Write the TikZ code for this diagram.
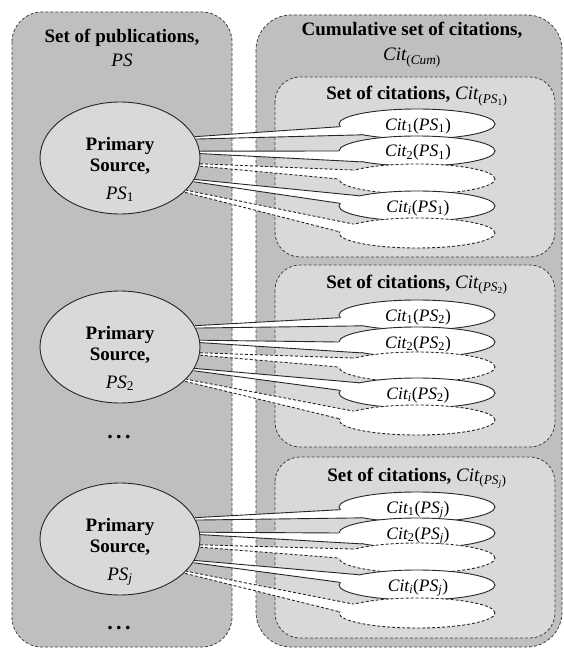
\documentclass[tikz,border=0pt]{standalone}
\usepackage{fontspec}
\setmainfont{Liberation Serif}
\usetikzlibrary{calc,shapes.geometric}
\definecolor{gA}{RGB}{191,191,191}
\definecolor{gB}{RGB}{217,217,217}
\newcommand{\mi}[1]{{\mdseries\itshape #1}}
\newcommand{\mytail}[6]{%
  \fill[white] ($(#1.#2)+(0,-1.2)$) -- (#3.#4) -- ($(#3.#4)!.5!(#3.#5)+(10,0)$) -- (#3.#5) -- ($(#1.#2)+(0,1.2)$) -- cycle;
  \draw[#6] ($(#1.#2)+(0,-1.2)$) -- (#3.#4);
  \draw[#6] ($(#1.#2)+(0,1.2)$) -- (#3.#5);}
\begin{document}
\begin{tikzpicture}[x=1pt,y=-1pt,
  dsh/.style={dash pattern=on 3pt off 2pt},
  outerpanel/.style={draw=black!75, dsh, line width=0.8pt, fill=gA},
  innerpanel/.style={draw=black!75, dsh, line width=0.8pt, fill=gB},
  psell/.style={ellipse, draw=black!85, line width=0.9pt, fill=gB, minimum width=160pt, minimum height=112pt, inner sep=0pt},
  citell/.style={ellipse, draw=black!85, line width=0.9pt, fill=white, minimum width=156pt, minimum height=30pt, inner sep=0pt},
  citdash/.style={citell, dsh},
  tlsolid/.style={draw=black!85, line width=0.9pt},
  tldash/.style={draw=black!85, line width=0.9pt, dsh},
  ttl/.style={font=\fontsize{19}{22}\selectfont\bfseries, inner sep=0pt, anchor=base},
  mth/.style={font=\fontsize{19}{22}\selectfont, inner sep=0pt, anchor=base},
  citlab/.style={font=\fontsize{17.5}{20}\selectfont, inner sep=0pt, anchor=base},
  dots/.style={font=\fontsize{22}{24}\selectfont\bfseries, inner sep=0pt}]
\useasboundingbox (0,0) rectangle (564,650);
% panels
\draw[outerpanel, rounded corners=30pt] (12,12) rectangle (232,647);
\draw[outerpanel, rounded corners=35pt] (256,15) rectangle (562,647);
\draw[innerpanel, rounded corners=25pt] (275,77) rectangle (555,257);
\draw[innerpanel, rounded corners=25pt] (275,265) rectangle (555,447);
\draw[innerpanel, rounded corners=25pt] (275,457) rectangle (555,638);
% titles
\node[ttl] (pubT) at (122,43) {Set of publications,};
\node[mth] (pubS) at (122,67) {\mi{PS}};
\node[ttl] (cumT) at (412,36) {Cumulative set of citations,};
\node[mth] (cumS) at (412,61) {\mi{Cit}\textsubscript{(\mi{Cum})}};
\node[dots] (dotsA) at (119,437) {.\hspace{3.5pt}.\hspace{3.5pt}.};
\node[dots] (dotsB) at (119,628) {.\hspace{3.5pt}.\hspace{3.5pt}.};
% groups
\foreach \cy/\ea/\eb/\ec/\ed/\ee/\s/\tb/\n in {158/124/151/179/206/233/1/100/1, 347/315/342/367/393/420/2/288/2, 539/507/533/558/585/613/{\mi{j}}/481/3}{
  \node[ttl] (st\n) at (417,\tb) {Set of citations, \mi{Cit}{\mdseries\textsubscript{(\mi{PS}\textsubscript{\s})}}};
  \node[psell] (ps\n) at (120,\cy) {};
  \node[ttl] (pa\n) at (120,\cy-8) {Primary};
  \node[ttl] (pb\n) at (120,\cy+13) {Source,};
  \node[mth] (pc\n) at (120,\cy+41) {\mi{PS}\textsubscript{\s}};
  \node[citell] (c\n a) at (417,\ea) {};
  \mytail{ps\n}{15}{c\n a}{182}{191}{tlsolid}
  \node[citell] (c\n b) at (417,\eb) {};
  \mytail{ps\n}{4.3}{c\n b}{180}{191}{tlsolid}
  \node[citdash] (c\n c) at (417,\ec) {};
  \mytail{ps\n}{-5.8}{c\n c}{172}{180}{tldash}
  \node[citell] (c\n d) at (417,\ed) {};
  \mytail{ps\n}{-17.6}{c\n d}{170}{178}{tlsolid}
  \node[citdash] (c\n e) at (417,\ee) {};
  \mytail{ps\n}{-27.3}{c\n e}{172}{179}{tldash}
  \node[citlab] (la\n) at (418,\ea+6) {\mi{Cit}\textsubscript{1}(\mi{PS}\textsubscript{\s})};
  \node[citlab] (lb\n) at (418,\eb+6) {\mi{Cit}\textsubscript{2}(\mi{PS}\textsubscript{\s})};
  \node[citlab] (ld\n) at (418,\ed+6) {\mi{Cit}\textsubscript{\mi{i}}(\mi{PS}\textsubscript{\s})};
}
\end{tikzpicture}
\end{document}
